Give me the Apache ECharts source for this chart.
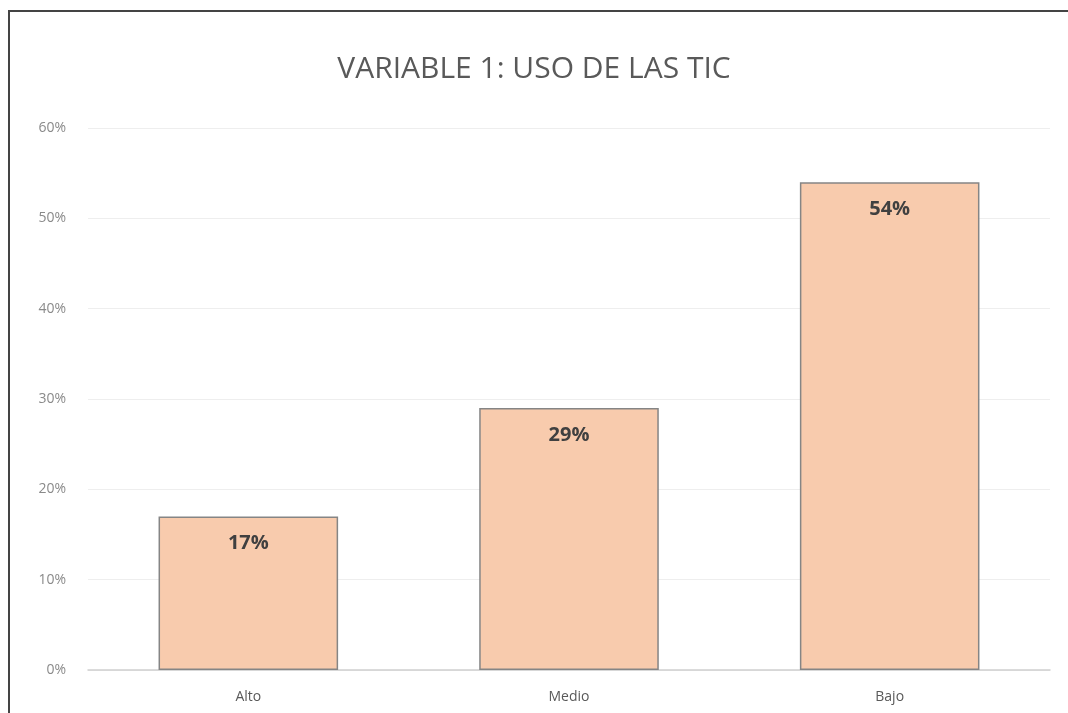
<!DOCTYPE html>
<html><head><meta charset="utf-8">
<script src="https://cdn.jsdelivr.net/npm/echarts@6/dist/echarts.min.js"></script>
<style>html,body{margin:0;padding:0;background:#fff}#c{width:1068px;height:713px}</style>
</head><body><div id="c"></div>
<script>
const categories = ['Alto', 'Medio', 'Bajo'];
const values = [17, 29, 54];
const yTicks = [0, 10, 20, 30, 40, 50, 60];
const titleText = 'VARIABLE 1: USO DE LAS TIC';

const chart = echarts.init(document.getElementById('c'));
chart.setOption({
  animation: false,
  backgroundColor: '#fff',
  graphic: [{
    type: 'rect', shape: {x: 9, y: 11, width: 1200, height: 800},
    style: {fill: 'none', stroke: '#444', lineWidth: 2}, silent: true
  }],
  title: {
    text: titleText, left: 'center', top: 49,
    textStyle: {fontFamily: 'Open Sans', fontSize: 30, fontWeight: 'normal', color: '#595959'}
  },
  grid: {left: 88, right: 18, top: 128, bottom: 43},
  xAxis: {
    type: 'category', data: categories,
    axisLine: {lineStyle: {color: '#d0d0d0', width: 1.5}},
    axisTick: {show: false},
    axisLabel: {color: '#595959', fontFamily: 'Open Sans', fontSize: 14, margin: 20}
  },
  yAxis: {
    type: 'value', min: yTicks[0], max: yTicks[yTicks.length - 1], interval: 10,
    axisLine: {show: false}, axisTick: {show: false},
    axisLabel: {color: '#8a8a8a', fontFamily: 'Open Sans', fontSize: 14, margin: 22, formatter: v => v + '%'},
    splitLine: {lineStyle: {color: '#eeeeee', width: 1}}
  },
  series: [{
    type: 'bar', data: values, barCategoryGap: '44%',
    itemStyle: {color: '#F8CBAD', borderColor: '#858585', borderWidth: 1.5},
    label: {
      show: true, position: 'insideTop', distance: 17,
      formatter: p => p.value + '%',
      fontFamily: 'Open Sans', fontSize: 20, fontWeight: 'bold', color: '#404040'
    }
  }]
});
</script></body></html>
